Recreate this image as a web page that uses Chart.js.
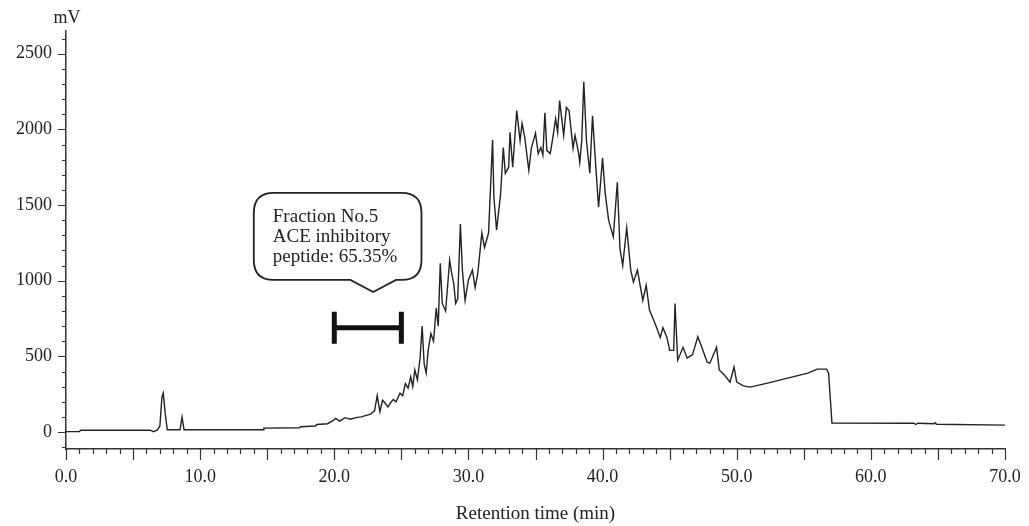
<!DOCTYPE html>
<html>
<head>
<meta charset="utf-8">
<title>Chromatogram - Fraction No.5</title>
<script src="https://cdn.jsdelivr.net/npm/chart.js@4.4.1/dist/chart.umd.min.js"></script>
<style>
  html, body { margin: 0; padding: 0; background: #fff; }
  #chart-container { width: 1029px; height: 526px; }
</style>
</head>
<body>
<div id="chart-container"><canvas id="chromatogram" width="1029" height="526"></canvas></div>
<script>
// -----------DATA----------
// Retention time (min) and detector signal (mV)
const retentionTimes = [
  0.0, 1.0, 1.1, 6.3, 6.5, 6.8, 7.0, 7.15, 7.25, 7.4, 7.55, 8.5, 8.65, 8.8,
  14.7, 14.75, 17.4, 17.5, 18.6, 18.7, 19.5, 19.9, 20.1, 20.4, 20.8, 21.2, 21.6, 22.0, 22.4, 22.7,
  23.0, 23.2, 23.4, 23.6, 23.8, 24.0, 24.2, 24.4, 24.6, 24.9, 25.1, 25.3, 25.5, 25.7, 25.85,
  26.0, 26.2, 26.4, 26.55, 26.7, 26.85, 27.0, 27.2, 27.4, 27.6, 27.75, 27.9, 28.05, 28.3,
  28.6, 28.75, 28.9, 29.05, 29.2, 29.4, 29.55, 29.75, 30.0, 30.3, 30.5, 30.7, 31.0, 31.2,
  31.5, 31.8, 31.9, 32.1, 32.4, 32.6, 32.75, 33.0, 33.1, 33.3, 33.6, 33.85, 34.0, 34.2,
  34.5, 34.7, 35.0, 35.2, 35.4, 35.55, 35.7, 35.85, 36.1, 36.3, 36.5, 36.65, 36.8, 37.1,
  37.3, 37.5, 37.8, 37.95, 38.2, 38.3, 38.45, 38.6, 38.8, 39.05, 39.25, 39.45, 39.7, 40.0,
  40.2, 40.45, 40.8, 41.1, 41.3, 41.5, 41.8, 42.1, 42.3, 42.6, 43.0, 43.25, 43.5, 43.9,
  44.3, 44.5, 44.8, 45.0, 45.3, 45.4, 45.6, 46.0, 46.3, 46.7, 47.1, 47.4, 47.8, 48.0,
  48.5, 48.7, 49.1, 49.5, 49.8, 50.0, 50.5, 51.0, 52.3, 53.8, 55.3, 56.0, 56.7, 56.85,
  57.1, 63.2, 63.35, 63.5, 64.7, 64.8, 64.9, 70.0,
];
const signalMv = [
  3, 3, 12, 12, 2, 12, 40, 230, 257, 120, 15, 15, 100, 15,
  15, 26, 28, 35, 40, 50, 55, 75, 90, 72, 95, 85, 95, 100, 110, 118,
  140, 240, 135, 210, 190, 165, 195, 215, 200, 257, 240, 320, 290, 365, 300,
  410, 345, 495, 700, 450, 390, 540, 650, 600, 820, 700, 1115, 850, 800,
  1135, 1050, 985, 850, 880, 1375, 1070, 870, 1005, 1070, 955, 1050, 1315, 1220,
  1315, 1930, 1550, 1335, 1575, 1880, 1710, 1750, 1980, 1750, 2125, 1925, 2040, 1945,
  1730, 1880, 1975, 1840, 1880, 1830, 2110, 1860, 1840, 1950, 2070, 1980, 2190, 1960,
  2145, 2125, 1875, 1960, 1850, 1780, 1930, 2315, 1925, 1710, 2090, 1815, 1485, 1810,
  1575, 1400, 1290, 1650, 1210, 1100, 1350, 1070, 990, 1070, 870, 970, 805, 720,
  625, 690, 625, 540, 540, 850, 475, 560, 490, 510, 630, 560, 462, 455,
  560, 410, 375, 330, 430, 330, 305, 297, 323, 356, 389, 416, 416, 389,
  60, 58, 50, 58, 55, 62, 52, 46,
];

// Axis tick labels
const xTickLabels = [0, 10, 20, 30, 40, 50, 60, 70];
const yTickLabels = [0, 500, 1000, 1500, 2000, 2500];

// Collected fraction (min) and callout text
const fractionStart = 20;
const fractionEnd = 25;
const calloutLines = ["Fraction No.5", "ACE inhibitory", "peptide: 65.35%"];

// -----------STYLE----------
const fontFamily = "'Liberation Serif', 'Times New Roman', serif";
const inkColor = "#222";
const axisColor = "#333";

// Tick marks (minor / major) drawn on the axes through the chart scales
const axisTicks = {
  id: "axisTicks",
  afterDraw(chart) {
    const { ctx, chartArea } = chart;
    const xScale = chart.scales.x;
    const yScale = chart.scales.y;
    ctx.save();
    ctx.strokeStyle = axisColor;
    ctx.lineWidth = 1.2;
    ctx.beginPath();
    for (let t = 0; t <= 70; t++) {
      const px = Math.round(xScale.getPixelForValue(t)) + 0.5;
      const len = t % 5 === 0 ? 11 : 5;
      ctx.moveTo(px, chartArea.bottom);
      ctx.lineTo(px, chartArea.bottom + len);
    }
    for (let v = -100; v <= 2600; v += 100) {
      const py = Math.round(yScale.getPixelForValue(v)) + 0.5;
      const len = v % 500 === 0 ? 8 : 4;
      ctx.moveTo(chartArea.left, py);
      ctx.lineTo(chartArea.left - len, py);
    }
    ctx.stroke();

    // unit label above the y axis
    ctx.fillStyle = inkColor;
    ctx.font = "18px " + fontFamily;
    ctx.textAlign = "center";
    ctx.textBaseline = "middle";
    ctx.fillText("mV", chartArea.left + 1, chartArea.top - 13);
    ctx.restore();
  },
};

// Fraction bracket and speech-bubble callout
const fractionCallout = {
  id: "fractionCallout",
  afterDraw(chart) {
    const { ctx } = chart;
    const xScale = chart.scales.x;
    const yScale = chart.scales.y;

    // bracket |----| over the collected fraction
    const x1 = xScale.getPixelForValue(fractionStart);
    const x2 = xScale.getPixelForValue(fractionEnd);
    const yb = yScale.getPixelForValue(690);
    ctx.save();
    ctx.strokeStyle = "#111";
    ctx.lineWidth = 5;
    ctx.lineCap = "butt";
    ctx.beginPath();
    ctx.moveTo(x1, yb);
    ctx.lineTo(x2, yb);
    ctx.moveTo(x1, yb - 16);
    ctx.lineTo(x1, yb + 16);
    ctx.moveTo(x2, yb - 16);
    ctx.lineTo(x2, yb + 16);
    ctx.stroke();

    // callout box
    const left = xScale.getPixelForValue(14.0);
    const right = xScale.getPixelForValue(26.5);
    const top = yScale.getPixelForValue(1580);
    const bottom = yScale.getPixelForValue(1005);
    const tipX = xScale.getPixelForValue(22.9);
    const tipY = yScale.getPixelForValue(925);
    const baseL = xScale.getPixelForValue(21.2);
    const baseR = xScale.getPixelForValue(24.6);
    const r = 20;
    ctx.lineWidth = 1.8;
    ctx.strokeStyle = inkColor;
    ctx.fillStyle = "#fff";
    ctx.beginPath();
    ctx.moveTo(left + r, top);
    ctx.lineTo(right - r, top);
    ctx.quadraticCurveTo(right, top, right, top + r);
    ctx.lineTo(right, bottom - r);
    ctx.quadraticCurveTo(right, bottom, right - r, bottom);
    ctx.lineTo(baseR, bottom);
    ctx.lineTo(tipX, tipY);
    ctx.lineTo(baseL, bottom);
    ctx.lineTo(left + r, bottom);
    ctx.quadraticCurveTo(left, bottom, left, bottom - r);
    ctx.lineTo(left, top + r);
    ctx.quadraticCurveTo(left, top, left + r, top);
    ctx.closePath();
    ctx.fill();
    ctx.stroke();

    ctx.fillStyle = inkColor;
    ctx.font = "19px " + fontFamily;
    ctx.textAlign = "left";
    ctx.textBaseline = "middle";
    calloutLines.forEach((line, i) => {
      ctx.fillText(line, left + 19, top + 24 + i * 20);
    });
    ctx.restore();
  },
};

// -------------------CHART---------------------------
const chromatogramId = document.getElementById("chromatogram");

const chromatogram = new Chart(chromatogramId, {
  type: "line",
  data: {
    datasets: [
      {
        label: "Signal",
        data: retentionTimes.map((t, i) => ({ x: t, y: signalMv[i] })),
        borderColor: inkColor,
        borderWidth: 1.4,
        pointRadius: 0,
        tension: 0,
        fill: false,
      },
    ],
  },
  options: {
    responsive: false,
    animation: false,
    devicePixelRatio: 1,
    layout: {
      padding: { top: 31, right: 24, bottom: 0, left: 0 },
    },
    plugins: {
      legend: { display: false },
      tooltip: { enabled: false },
    },
    scales: {
      x: {
        type: "linear",
        min: 0,
        max: 70,
        afterBuildTicks: (axis) => {
          axis.ticks = xTickLabels.map((v) => ({ value: v }));
        },
        afterFit: (axis) => {
          axis.height = 77;
        },
        // built-in tick marks hidden, tickLength only pushes the labels down
        grid: { display: false, drawTicks: true, tickLength: 14 },
        border: { display: true, color: axisColor, width: 1.5 },
        ticks: {
          autoSkip: false,
          maxRotation: 0,
          padding: 3,
          color: inkColor,
          font: { family: fontFamily, size: 18 },
          callback: (value) => Number(value).toFixed(1),
        },
        title: {
          display: true,
          text: "Retention time (min)",
          color: inkColor,
          font: { family: fontFamily, size: 19 },
          padding: { top: 0, bottom: 1 },
        },
      },
      y: {
        type: "linear",
        min: -112,
        max: 2650,
        afterBuildTicks: (axis) => {
          axis.ticks = yTickLabels.map((v) => ({ value: v }));
        },
        afterFit: (axis) => {
          axis.width = 66;
        },
        grid: { display: false, drawTicks: false },
        border: { display: true, color: axisColor, width: 1.5 },
        ticks: {
          padding: 14,
          color: inkColor,
          font: { family: fontFamily, size: 18 },
          callback: (value) => String(value),
        },
      },
    },
  },
  plugins: [axisTicks, fractionCallout],
});
</script>
</body>
</html>
